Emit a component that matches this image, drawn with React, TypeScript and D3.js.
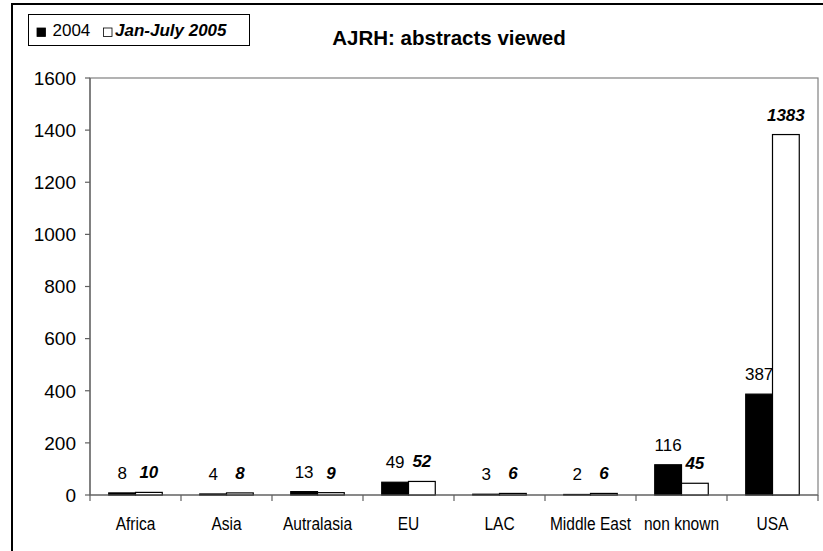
import React from "react";
import * as d3 from "d3";

// Regions and counts of abstracts viewed
const categories = ["Africa", "Asia", "Autralasia", "EU", "LAC", "Middle East", "non known", "USA"];
const values2004 = [8, 4, 13, 49, 3, 2, 116, 387];
const values2005 = [10, 8, 9, 52, 6, 6, 45, 1383];
const seriesNames = ["2004", "Jan-July 2005"];
const yTicks = [0, 200, 400, 600, 800, 1000, 1200, 1400, 1600];

const W = 823;
const H = 551;
const plot = { left: 90, right: 818, top: 78, bottom: 495 };
const FONT = "'Liberation Sans', Arial, Helvetica, sans-serif";

export default function App() {
  const x = d3.scaleBand<string>().domain(categories).range([plot.left, plot.right]).paddingInner(0).paddingOuter(0);
  const xInner = d3.scaleBand<string>().domain(seriesNames).range([0, x.bandwidth()]).paddingInner(0).paddingOuter(0.7);
  const y = d3.scaleLinear().domain([0, 1600]).range([plot.bottom, plot.top]);

  const bars = categories.flatMap((c, i) => [
    { c, s: seriesNames[0], v: values2004[i] },
    { c, s: seriesNames[1], v: values2005[i] },
  ]);

  return (
    <svg
      width={W}
      height={H}
      style={{ position: "fixed", left: 0, top: 0, display: "block", background: "#fff" }}
      fontFamily={FONT}
    >
      <rect x={0} y={0} width={W} height={H} fill="#fff" />
      {/* outer chart frame */}
      <rect x={12} y={4} width={840} height={580} fill="none" stroke="#000" strokeWidth={2} />

      {/* plot area border */}
      <rect
        x={plot.left}
        y={plot.top}
        width={plot.right - plot.left}
        height={plot.bottom - plot.top}
        fill="none"
        stroke="#808080"
        strokeWidth={1.2}
      />

      {/* bars */}
      {bars.map((b, i) => {
        const bx = (x(b.c) as number) + (xInner(b.s) as number);
        const by = y(b.v);
        const dark = b.s === seriesNames[0];
        return (
          <rect
            key={i}
            x={bx}
            y={by}
            width={xInner.bandwidth()}
            height={plot.bottom - by}
            fill={dark ? "#000" : "#fff"}
            stroke="#000"
            strokeWidth={1.2}
          />
        );
      })}

      {/* value labels */}
      {bars.map((b, i) => {
        const cx = (x(b.c) as number) + (xInner(b.s) as number) + xInner.bandwidth() / 2;
        const dark = b.s === seriesNames[0];
        return (
          <text
            key={"l" + i}
            x={cx}
            y={y(b.v) - 14}
            textAnchor="middle"
            fontSize={17}
            fontWeight={dark ? "normal" : "bold"}
            fontStyle={dark ? "normal" : "italic"}
            fill="#000"
          >
            {b.v}
          </text>
        );
      })}

      {/* y axis */}
      <line x1={plot.left} x2={plot.left} y1={plot.top} y2={plot.bottom} stroke="#606060" strokeWidth={1.2} />
      {yTicks.map((t) => (
        <g key={"yt" + t}>
          <line x1={plot.left - 5} x2={plot.left} y1={y(t)} y2={y(t)} stroke="#606060" strokeWidth={1.2} />
          <text x={76} y={y(t)} dy="0.36em" textAnchor="end" fontSize={19} fill="#000">
            {t}
          </text>
        </g>
      ))}

      {/* x axis */}
      <line x1={plot.left} x2={plot.right} y1={plot.bottom} y2={plot.bottom} stroke="#606060" strokeWidth={1.2} />
      {categories.map((c, i) => (
        <line
          key={"xt" + c}
          x1={(x(c) as number) + (i === 0 ? 0 : 0)}
          x2={x(c) as number}
          y1={plot.bottom}
          y2={plot.bottom + 6}
          stroke="#606060"
          strokeWidth={1.2}
        />
      ))}
      <line x1={plot.right} x2={plot.right} y1={plot.bottom} y2={plot.bottom + 6} stroke="#606060" strokeWidth={1.2} />
      {categories.map((c) => (
        <text
          key={"xl" + c}
          transform={`translate(${(x(c) as number) + x.bandwidth() / 2},530) scale(0.84,1)`}
          textAnchor="middle"
          fontSize={18.5}
          fill="#000"
        >
          {c}
        </text>
      ))}

      {/* title */}
      <text x={449} y={45} textAnchor="middle" fontSize={20.5} fontWeight="bold" fill="#000">
        AJRH: abstracts viewed
      </text>

      {/* legend */}
      <rect x={28.5} y={14.5} width={221} height={31} fill="#fff" stroke="#000" strokeWidth={1} />
      <rect x={37} y={28} width={8.5} height={8.5} fill="#000" stroke="#000" strokeWidth={0.8} />
      <text x={52.5} y={36} fontSize={17} fill="#000">
        {seriesNames[0]}
      </text>
      <rect x={103.5} y={28} width={8.5} height={8.5} fill="#fff" stroke="#000" strokeWidth={0.8} />
      <text x={115} y={36} fontSize={17} fontWeight="bold" fontStyle="italic" fill="#000">
        {seriesNames[1]}
      </text>
    </svg>
  );
}
